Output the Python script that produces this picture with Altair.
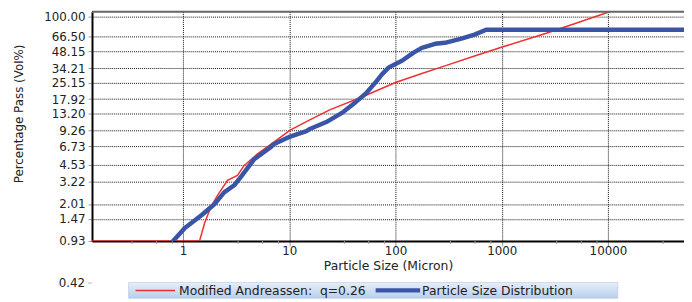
import altair as alt
import pandas as pd

# ---- data ----
psd_x = [0.807, 1.04, 1.50, 1.97, 2.44, 3.03, 3.49, 4.64, 6.63, 7.13, 10.2, 14.5, 15.6,
         22.3, 31.9, 42.4, 52.6, 65.2, 75.2, 86.6, 115, 148, 177, 236, 292, 417, 555,
         713, 52000]
psd_y = [0.93, 1.22, 1.60, 2.00, 2.56, 2.97, 3.53, 5.08, 6.52, 7.0, 8.2, 9.2, 9.6,
         11.1, 13.6, 16.9, 20.1, 25.5, 30.3, 34.7, 39.8, 47.2, 52.2, 56.7, 57.9, 63.3, 68.7,
         76.1, 76.1]

and_x = [0.139, 1.43, 1.60, 1.83, 2.12, 2.62, 3.25, 3.75, 4.99, 7.65, 10.2, 15.6, 24,
         49, 100, 177, 292, 555, 1011, 2668, 5070, 10370]
and_y = [0.93, 0.93, 1.36, 1.90, 2.42, 3.29, 3.64, 4.47, 5.68, 7.64, 9.38, 11.6, 14.3,
         18.8, 25.3, 30.5, 35.8, 44.0, 53.0, 71.0, 87.5, 110.8]

y_ticks = [0.93, 1.47, 2.01, 3.22, 4.53, 6.73, 9.26, 13.20, 17.92, 25.15, 34.21, 48.15, 66.50, 100.00]
x_ticks = [1, 10, 100, 1000, 10000]
x_minor = [0.33, 0.56, 0.79, 3.3, 5.6, 7.9, 33, 56, 79, 330, 560, 790, 3300, 5600, 7900,
           33000]
extra_y_label = [0.42]
legend_labels = ["Modified Andreassen:\u00a0\u00a0q=0.26", "Particle Size Distribution"]

FONT = "DejaVu Sans"
RED = "#f03030"
BLUE = "#3a54a6"
W, H = 599, 232

psd = pd.DataFrame({"x": psd_x, "y": psd_y})
andr = pd.DataFrame({"x": and_x, "y": and_y})
minor = pd.DataFrame({"x": x_minor})
extra = pd.DataFrame({"y": extra_y_label, "label": ["%.2f" % v for v in extra_y_label]})

xscale = alt.Scale(type="log", domain=[0.139, 52000], nice=False)
yscale = alt.Scale(type="log", domain=[0.93, 110.8], nice=False)

xaxis = alt.Axis(values=x_ticks, format="d", grid=True, gridDash=[1, 1], gridColor="#111",
                 gridWidth=1, domainColor="black", domainWidth=2, tickColor="#999",
                 tickSize=5, labelPadding=0, labelFlush=False, labelFontSize=12,
                 title="Particle Size (Micron)", titleY=25, titleBaseline="middle",
                 titleFontSize=12.5, titleFontWeight="normal")
yaxis = alt.Axis(values=y_ticks, format=".2f", grid=True, gridDash=[1, 1], gridColor="#111",
                 gridWidth=1, domainColor="black", domainWidth=2, tickColor="#999",
                 tickSize=4, labelPadding=3, labelFontSize=12,
                 title="Percentage Pass (Vol%)", titleX=-74, titleY=103, titleAngle=270,
                 titleAlign="center", titleBaseline="middle", titleFontSize=12,
                 titleFontWeight="normal")

xenc = alt.X("x:Q", scale=xscale, axis=xaxis)
yenc = alt.Y("y:Q", scale=yscale, axis=yaxis)

red_line = alt.Chart(andr).mark_line(color=RED, strokeWidth=1.5, clip=True).encode(
    x=xenc, y=yenc, order=alt.Order("x:Q"))
blue_line = alt.Chart(psd).mark_line(color=BLUE, strokeWidth=4.5, clip=True,
                                     strokeCap="round", strokeJoin="round").encode(
    x=xenc, y=yenc, order=alt.Order("x:Q"))

minor_ticks = alt.Chart(minor).mark_rule(color="#999", strokeWidth=1).encode(
    x=xenc, y=alt.value(H), y2=alt.value(H + 3))

top_border = alt.Chart(pd.DataFrame({"a": [0]})).mark_rule(color="#666", strokeWidth=2).encode(
    x=alt.value(0), x2=alt.value(W), y=alt.value(0))

extra_label = alt.Chart(extra).mark_text(align="right", baseline="middle", font=FONT,
                                         fontSize=12, color="#222", clip=False, dy=4).encode(
    y=yenc, x=alt.value(-7), text="label:N")
extra_tick = alt.Chart(extra).mark_tick(color="#999", thickness=1, size=4, orient="horizontal",
                                        clip=False, yOffset=4).encode(
    y=yenc, x=alt.value(-2))

grad = alt.LinearGradient(gradient="linear",
                          stops=[alt.GradientStop(color="#e6eef9", offset=0),
                                 alt.GradientStop(color="#b9cfeb", offset=1)],
                          x1=0, x2=0, y1=0, y2=1)
leg_bg = alt.Chart(pd.DataFrame({"a": [0]})).mark_rect(color=grad, stroke="#aac0e0",
                                                       strokeWidth=0.5).encode(
    x=alt.value(37), x2=alt.value(532), y=alt.value(274), y2=alt.value(290))
leg_red = alt.Chart(pd.DataFrame({"a": [0]})).mark_rule(color=RED, strokeWidth=1.5).encode(
    x=alt.value(44), x2=alt.value(84), y=alt.value(282))
leg_blue = alt.Chart(pd.DataFrame({"a": [0]})).mark_rule(color=BLUE, strokeWidth=4.5).encode(
    x=alt.value(287), x2=alt.value(332), y=alt.value(282))
leg_t1 = alt.Chart(pd.DataFrame({"label": [legend_labels[0]]})).mark_text(
    align="left", baseline="middle", font=FONT, fontSize=12.5, color="#222").encode(
    x=alt.value(88), y=alt.value(282.5), text="label:N")
leg_t2 = alt.Chart(pd.DataFrame({"label": [legend_labels[1]]})).mark_text(
    align="left", baseline="middle", font=FONT, fontSize=12.5, color="#222").encode(
    x=alt.value(334), y=alt.value(282.5), text="label:N")

chart = alt.layer(
    red_line, blue_line, minor_ticks, top_border, extra_label, extra_tick,
    leg_bg, leg_red, leg_blue, leg_t1, leg_t2
).properties(
    width=W, height=H,
    autosize=alt.AutoSizeParams(type="none"),
    padding={"left": 85, "top": 2, "right": 0, "bottom": 60},
).configure_view(stroke=None).configure_axis(
    labelFont=FONT, titleFont=FONT, labelColor="#222", titleColor="#222"
)

chart.save("out.html", embed_options={"renderer": "svg", "actions": False})
